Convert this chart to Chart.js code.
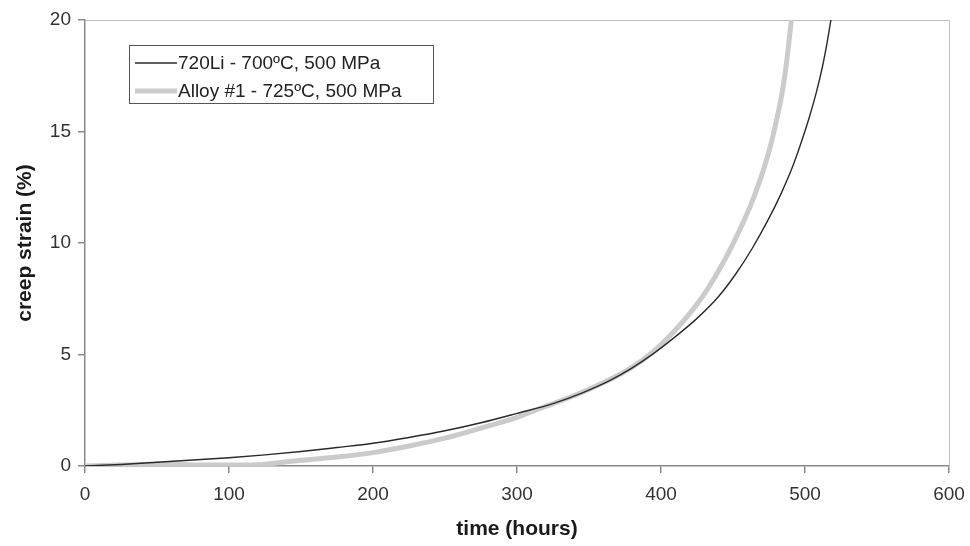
<!DOCTYPE html>
<html>
<head>
<meta charset="utf-8">
<script src="https://cdn.jsdelivr.net/npm/chart.js@4.4.1/dist/chart.umd.min.js"></script>
<style>
  html, body { margin: 0; padding: 0; background: #fff; }
  #wrap { width: 970px; height: 546px; }
</style>
</head>
<body>
<div id="wrap"><canvas id="creepChart" width="970" height="546"></canvas></div>
<script>
// Creep curves (time in hours, strain in %)
const seriesNames = ['720Li - 700ºC, 500 MPa', 'Alloy #1 - 725ºC, 500 MPa']

const liHours  = [0, 25, 50, 75, 100, 125, 150, 175, 200, 225, 250, 275, 300, 325, 345, 365, 380, 395, 410, 425, 440, 452, 463, 474, 483, 491, 497, 503, 508, 512, 515, 518]
const liStrain = [0, 0.07, 0.17, 0.27, 0.37, 0.5, 0.65, 0.83, 1.02, 1.28, 1.58, 1.94, 2.36, 2.8, 3.27, 3.85, 4.4, 5.05, 5.8, 6.62, 7.6, 8.62, 9.72, 10.99, 12.16, 13.36, 14.44, 15.64, 16.79, 17.87, 18.86, 20]

const alloyHours  = [0, 25, 50, 75, 100, 120, 145, 175, 200, 225, 250, 275, 300, 310, 344, 379, 395, 410, 422, 433, 443, 451, 458, 465, 471, 476, 480, 484, 487, 489, 490.5]
const alloyStrain = [0, 0.04, 0.08, 0.05, 0.04, 0.06, 0.22, 0.4, 0.6, 0.9, 1.25, 1.7, 2.18, 2.44, 3.27, 4.39, 5.15, 6.1, 7.0, 8.0, 9.1, 10.1, 11.05, 12.15, 13.25, 14.35, 15.45, 16.7, 18.0, 19.1, 20]

const xTicks = [0, 100, 200, 300, 400, 500, 600]
const yTicks = [0, 5, 10, 15, 20]

const fontFamily = '"Liberation Sans", Arial, sans-serif'

function toPoints(xs, ys) {
    return xs.map((x, i) => ({ x: x, y: ys[i] }))
}

// thin frame on top and right of the plot
const frame = {
    id: 'frame',
    beforeDatasetsDraw(chart) {
        const a = chart.chartArea
        const ctx = chart.ctx
        ctx.save()
        ctx.strokeStyle = '#bdbdbd'
        ctx.lineWidth = 1
        ctx.beginPath()
        ctx.moveTo(a.left, a.top + 0.5)
        ctx.lineTo(a.right + 0.5, a.top + 0.5)
        ctx.lineTo(a.right + 0.5, a.bottom)
        ctx.stroke()
        ctx.restore()
    }
}

// boxed legend in the top left corner, from the dataset styles
const boxLegend = {
    id: 'boxLegend',
    afterDraw(chart) {
        const ctx = chart.ctx
        const sets = chart.data.datasets
        const left = 129, top = 45, width = 304, height = 58
        ctx.save()
        ctx.fillStyle = '#fff'
        ctx.fillRect(left, top, width, height)
        ctx.strokeStyle = '#555'
        ctx.lineWidth = 1
        ctx.strokeRect(left + 0.5, top + 0.5, width, height)
        ctx.font = '19px ' + fontFamily
        ctx.textBaseline = 'middle'
        sets.forEach((ds, i) => {
            const y = top + 18 + i * 28
            ctx.strokeStyle = ds.borderColor
            ctx.lineWidth = ds.borderWidth
            ctx.beginPath()
            ctx.moveTo(left + 6, y)
            ctx.lineTo(left + 48, y)
            ctx.stroke()
            ctx.fillStyle = '#222'
            ctx.fillText(ds.label, left + 49, y + 1)
        })
        ctx.restore()
    }
}

new Chart(document.getElementById('creepChart'), {
    type: 'scatter',
    data: {
        datasets: [{
            label: seriesNames[0],
            data: toPoints(liHours, liStrain),
            showLine: true,
            borderColor: '#2a2a2a',
            borderWidth: 1.4,
            pointRadius: 0,
            cubicInterpolationMode: 'monotone'
        }, {
            label: seriesNames[1],
            data: toPoints(alloyHours, alloyStrain),
            showLine: true,
            borderColor: '#cbcbcb',
            borderWidth: 5,
            pointRadius: 0,
            cubicInterpolationMode: 'monotone'
        }]
    },
    options: {
        responsive: false,
        animation: false,
        layout: { padding: { top: 20, right: 21, left: 0, bottom: 0 } },
        plugins: {
            legend: { display: false },
            tooltip: { enabled: false }
        },
        scales: {
            x: {
                type: 'linear',
                min: 0,
                max: 600,
                afterBuildTicks: (scale) => { scale.ticks = xTicks.map(v => ({ value: v })) },
                afterFit: (scale) => {
                    scale.height = 80
                    scale.paddingLeft = 0
                    scale.paddingRight = 0
                },
                border: { color: '#8a8a8a', width: 1.5 },
                grid: { display: true, drawOnChartArea: false, tickLength: 7, color: '#8a8a8a', lineWidth: 1.5 },
                ticks: { color: '#333', font: { family: fontFamily, size: 19 }, padding: 10, maxRotation: 0 },
                title: {
                    display: true,
                    text: 'time (hours)',
                    color: '#1a1a1a',
                    font: { family: fontFamily, size: 21, weight: 'bold' },
                    padding: { top: 4, bottom: 4 }
                }
            },
            y: {
                min: 0,
                max: 20,
                afterBuildTicks: (scale) => { scale.ticks = yTicks.map(v => ({ value: v })) },
                afterFit: (scale) => {
                    scale.width = 85
                    scale.paddingTop = 0
                    scale.paddingBottom = 0
                },
                border: { color: '#8a8a8a', width: 1.5 },
                grid: { display: true, drawOnChartArea: false, tickLength: 7, color: '#8a8a8a', lineWidth: 1.5 },
                ticks: { color: '#333', font: { family: fontFamily, size: 19 }, padding: 7 },
                title: {
                    display: true,
                    text: 'creep strain (%)',
                    color: '#1a1a1a',
                    font: { family: fontFamily, size: 21, weight: 'bold' },
                    padding: { top: 13, bottom: 6 }
                }
            }
        }
    },
    plugins: [frame, boxLegend]
})
</script>
</body>
</html>
